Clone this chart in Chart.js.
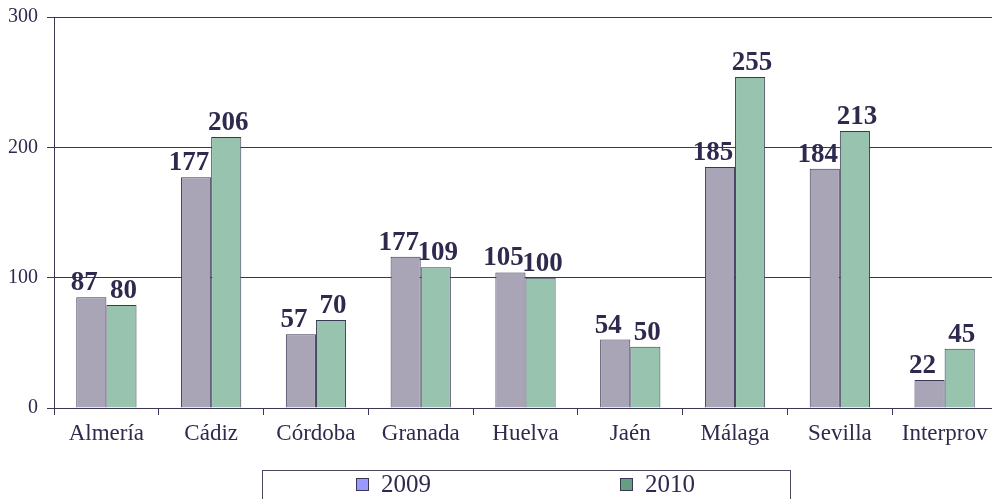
<!DOCTYPE html>
<html>
<head>
<meta charset="utf-8">
<script src="https://cdn.jsdelivr.net/npm/chart.js@4.4.0/dist/chart.umd.min.js"></script>
<style>
  html, body { margin: 0; padding: 0; background: #fff; overflow: hidden; }
  #wrap { width: 1000px; height: 499px; }
</style>
</head>
<body>
<div id="wrap"><canvas id="myChart" width="1000" height="499"></canvas></div>
<script>
// data
const provincias = ['Almería', 'Cádiz', 'Córdoba', 'Granada', 'Huelva', 'Jaén', 'Málaga', 'Sevilla', 'Interprov'];
const series = ['2009', '2010'];
const valores2009 = [85, 177, 56.5, 116, 104, 52.5, 185, 183.5, 21.5];
const valores2010 = [79, 208, 67.5, 108, 100, 47, 254, 212.5, 45.5];
const etiquetas2009 = ['87', '177', '57', '177', '105', '54', '185', '184', '22'];
const etiquetas2010 = ['80', '206', '70', '109', '100', '50', '255', '213', '45'];
const yTicks = [0, 100, 200, 300];

const ink = '#2e2a4e';
const lineCol = '#3a3656';
const barFill = ['#aaa5b6', '#98c3ae'];
const legendFill = ['#9999ff', '#669e83'];
const serif = '"Liberation Serif", "Times New Roman", serif';

// value labels above the bars
const valueLabels = {
  id: 'valueLabels',
  afterDatasetsDraw(chart) {
    const ctx = chart.ctx;
    const texts = [etiquetas2009, etiquetas2010];
    const dx = [-7, 2];
    ctx.save();
    ctx.font = 'bold 27px ' + serif;
    ctx.fillStyle = ink;
    ctx.textAlign = 'center';
    ctx.textBaseline = 'alphabetic';
    chart.data.datasets.forEach((ds, i) => {
      chart.getDatasetMeta(i).data.forEach((bar, j) => {
        ctx.fillText(texts[i][j], bar.x + dx[i], bar.y - 7);
      });
    });
    ctx.restore();
  }
};

// boxed legend under the chart
const boxLegend = {
  id: 'boxLegend',
  afterDraw(chart) {
    const ctx = chart.ctx;
    const a = chart.chartArea;
    const cx = (a.left + a.right) / 2;
    const w = 528, top = 470;
    ctx.save();
    ctx.strokeStyle = '#4a4760';
    ctx.lineWidth = 1;
    ctx.strokeRect(Math.round(cx - w / 2) + 0.5, top + 0.5, w, 60);
    ctx.font = '25px ' + serif;
    ctx.textBaseline = 'middle';
    ctx.textAlign = 'left';
    series.forEach((s, i) => {
      const colCenter = cx - w / 4 + i * w / 2;
      const tw = ctx.measureText(s).width;
      const itemW = 13 + 12 + tw;
      const x0 = Math.round(colCenter - itemW / 2);
      ctx.fillStyle = legendFill[i];
      ctx.fillRect(x0, 478, 13, 13);
      ctx.strokeStyle = lineCol;
      ctx.strokeRect(x0 + 0.5, 478.5, 12, 12);
      ctx.fillStyle = ink;
      ctx.fillText(s, x0 + 25, 485);
    });
    ctx.restore();
  }
};

const data = {
  labels: provincias,
  datasets: [
    { label: series[0], data: valores2009, backgroundColor: barFill[0], borderColor: lineCol, borderWidth: 1 },
    { label: series[1], data: valores2010, backgroundColor: barFill[1], borderColor: lineCol, borderWidth: 1 }
  ]
};

const config = {
  type: 'bar',
  data,
  options: {
    responsive: false,
    animation: false,
    layout: { padding: { top: 17, right: 3, bottom: 0, left: 0 } },
    datasets: { bar: { categoryPercentage: 0.575, barPercentage: 1 } },
    plugins: {
      legend: { display: false },
      tooltip: { enabled: false }
    },
    scales: {
      x: {
        offset: true,
        grid: { offset: true, drawOnChartArea: false, drawTicks: true, tickLength: 7, color: lineCol },
        border: { color: lineCol, width: 1 },
        ticks: { color: ink, padding: 5, font: { family: serif, size: 23 } },
        afterFit(scale) { scale.height = 91; scale.paddingLeft = 0; scale.paddingRight = 0; }
      },
      y: {
        min: 0,
        max: 300,
        afterBuildTicks(scale) { scale.ticks = yTicks.map(v => ({ value: v })); },
        grid: { color: lineCol, drawTicks: true, tickLength: 7 },
        border: { color: lineCol, width: 1 },
        ticks: { color: ink, padding: 9, font: { family: serif, size: 20 } },
        afterFit(scale) { scale.width = 54; scale.paddingTop = 0; scale.paddingBottom = 0; }
      }
    }
  },
  plugins: [valueLabels, boxLegend]
};

const myChart = new Chart(document.getElementById('myChart'), config);
</script>
</body>
</html>
